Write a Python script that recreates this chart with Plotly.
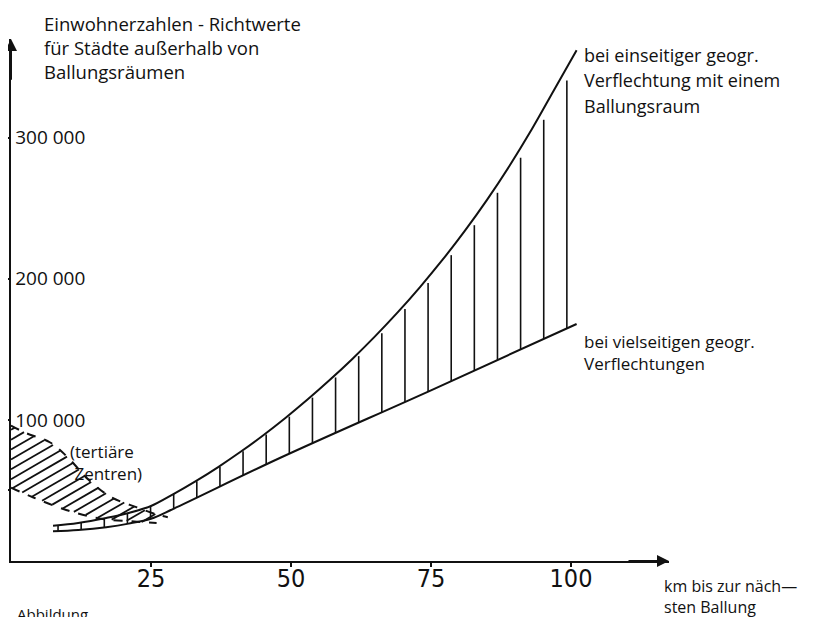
import numpy as np
import plotly.graph_objects as go

# ---- data (km distance, inhabitants) ----
upper_km = [7.5, 12, 17, 21, 25, 29, 33, 37, 41, 45, 49, 53, 57, 61, 65, 69, 73, 77, 81, 85, 89, 93, 97, 101]
upper_val = [25000, 27000, 30500, 34000, 39000, 47400, 56600, 66600, 77400, 89000, 101400, 114600, 128600,
             143400, 159200, 176000, 194000, 213200, 233800, 256000, 280000, 306000, 334000, 362000]
lower_km = [7.5, 12, 17, 21, 25, 29, 48, 75, 101]
lower_val = [21000, 22000, 24000, 26500, 30000, 37000, 73000, 121000, 168000]

tert_upper_km = [0, 2.5, 7, 10, 14, 18, 22.5, 26, 28]
tert_upper_val = [96000, 91000, 84000, 74000, 57000, 45000, 38000, 33000, 31000]
tert_lower_km = [0, 4, 10, 16, 22, 26]
tert_lower_val = [52000, 45000, 36000, 30000, 28000, 27000]

y_tick_vals = [50000, 100000, 200000, 300000]
y_tick_text = ["", "100 000", "200 000", "300 000"]
x_tick_vals = [25, 50, 75, 100]
x_tick_text = ["25", "50", "75", "100"]

X_MAX = 117.5
Y_MAX = 370000

FONT = "'Open Sans', 'Noto Sans', sans-serif"
INK = "#111111"

fig = go.Figure()

# ---- vertical hatching between the two curves ----
hx = np.arange(8.4, 99.6, 4.13)
hu = np.interp(hx, upper_km, upper_val)
hl = np.interp(hx, lower_km, lower_val)
vx, vy = [], []
for x, u, l in zip(hx, hu, hl):
    top = u - 0.05 * (u - l) if x > 30 else u
    vx += [x, x, None]
    vy += [l, top, None]
fig.add_trace(go.Scatter(x=vx, y=vy, mode="lines", line=dict(color=INK, width=1.6),
                         hoverinfo="skip", showlegend=False))

# ---- main curves ----
fig.add_trace(go.Scatter(x=upper_km, y=upper_val, mode="lines", line=dict(color=INK, width=2, shape="spline"),
                         name="bei einseitiger Verflechtung", showlegend=False))
fig.add_trace(go.Scatter(x=lower_km, y=lower_val, mode="lines", line=dict(color=INK, width=2, shape="spline"),
                         name="bei vielseitigen Verflechtungen", showlegend=False))

# ---- tertiary centres: diagonal hatching ----
xs = np.linspace(0, 26, 1041)
up = np.interp(xs, tert_upper_km, tert_upper_val)
lo = np.interp(xs, tert_lower_km, tert_lower_val)
slope = 2300.0
dx_, dy_ = [], []
for c in np.arange(-40000, 100000, 7000):
    yl = slope * xs + c
    ok = (yl >= lo) & (yl <= up)
    idx = np.where(ok)[0]
    if len(idx) < 3:
        continue
    i0 = idx[0]
    i1 = i0
    while i1 + 1 < len(xs) and ok[i1 + 1]:
        i1 += 1
    dx_ += [xs[i0], xs[i1], None]
    dy_ += [yl[i0], yl[i1], None]
fig.add_trace(go.Scatter(x=dx_, y=dy_, mode="lines", line=dict(color=INK, width=1.8),
                         hoverinfo="skip", showlegend=False))
fig.add_trace(go.Scatter(x=tert_upper_km, y=tert_upper_val, mode="lines",
                         line=dict(color=INK, width=2, dash="dash", shape="spline"), showlegend=False))
fig.add_trace(go.Scatter(x=tert_lower_km, y=tert_lower_val, mode="lines",
                         line=dict(color=INK, width=2, dash="dash", shape="spline"), showlegend=False))

# ---- axis arrows ----
fig.add_annotation(x=X_MAX, y=0, ax=110, ay=0, xref="x", yref="y", axref="x", ayref="y",
                   showarrow=True, arrowhead=2, arrowsize=1.2, arrowwidth=2, arrowcolor=INK, text="")
fig.add_annotation(x=0, y=Y_MAX, ax=0, ay=340000, xref="x", yref="y", axref="x", ayref="y",
                   showarrow=True, arrowhead=2, arrowsize=1.2, arrowwidth=2, arrowcolor=INK, text="")

# ---- texts (paper coordinates so they may sit outside the axes box) ----
def lines(x_km, y_vals, texts, size=17):
    for yv, t in zip(y_vals, texts):
        fig.add_annotation(x=x_km / X_MAX, y=yv / Y_MAX, xref="paper", yref="paper", text=t,
                           showarrow=False, xanchor="left", yanchor="middle", align="left",
                           font=dict(family=FONT, size=size, color=INK))

def block(x_km, y_top, text, size=16):
    fig.add_annotation(x=x_km / X_MAX, y=y_top / Y_MAX, xref="paper", yref="paper", text=text,
                       showarrow=False, xanchor="left", yanchor="top", align="left",
                       font=dict(family=FONT, size=size, color=INK))

block(5.5, 391500, "Einwohnerzahlen - Richtwerte<br>für Städte außerhalb von<br>Ballungsräumen", size=18.5)
lines(102.0, [358500, 341000, 322500],
      ["bei einseitiger geogr.", "Verflechtung mit einem", "Ballungsraum"], size=18)
block(102.0, 165500, "bei vielseitigen geogr.<br>Verflechtungen", size=17)
block(10.2, 87500, "(tertiäre<br> Zentren)", size=17)
block(116.3, -8500, "km bis zur näch—<br>sten Ballung", size=16)
lines(0.7, [-37500], ["Abbildung"], size=15)

fig.update_layout(
    width=811, height=609,
    margin=dict(l=3, r=150, t=31, b=56, autoexpand=False),
    paper_bgcolor="white", plot_bgcolor="white",
    showlegend=False,
    xaxis=dict(range=[0, X_MAX], showgrid=False, zeroline=False, showline=True, linecolor=INK, linewidth=2,
               automargin=False,
               tickvals=x_tick_vals, ticktext=x_tick_text, ticks="outside", ticklen=4, tickwidth=1.5,
               tickcolor=INK, ticklabelstandoff=-10,
               tickfont=dict(family="'Liberation Sans Narrow', 'DejaVu Sans Condensed', sans-serif",
                             size=25, color=INK)),
    yaxis=dict(range=[0, Y_MAX], showgrid=False, zeroline=False, showline=True, linecolor=INK, linewidth=2,
               automargin=False,
               tickvals=y_tick_vals, ticktext=y_tick_text, ticks="outside", ticklen=4, tickwidth=1.5,
               tickcolor=INK, ticklabelposition="inside", ticklabelstandoff=5,
               tickfont=dict(family=FONT, size=19, color=INK)),
)

fig.write_html("out.html")
